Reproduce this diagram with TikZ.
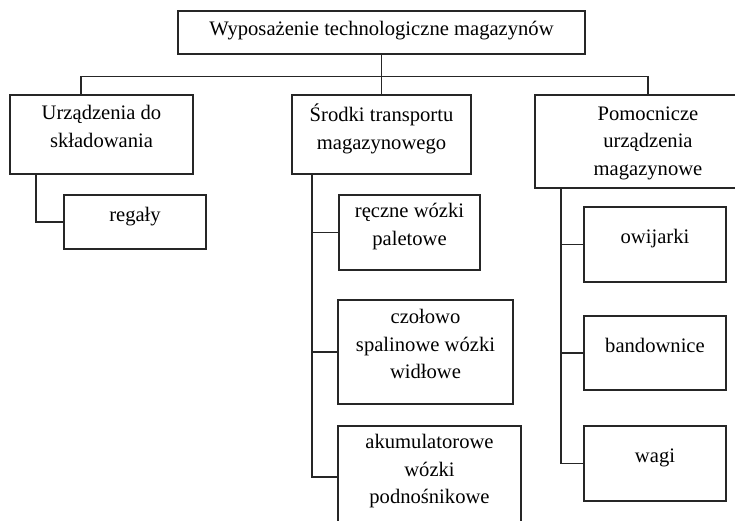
\documentclass[tikz,border=0pt]{standalone}
\usepackage{fontspec}
\setmainfont{Liberation Serif}
\usetikzlibrary{positioning,calc}
\tikzset{
  orgbox/.style={draw=black!85, line width=1.2pt, align=center, inner sep=2pt,
    font=\fontsize{20.6}{27.5}\selectfont, text depth=16pt},
  orgline/.style={draw=black!85, line width=1.2pt},
}
\begin{document}
\begin{tikzpicture}[x=1pt,y=-1pt]
  \useasboundingbox (0,0) rectangle (735,521);
  \clip (0,0) rectangle (735,521);
  % root
  \node[orgbox, minimum width=407pt, minimum height=43pt, text depth=9pt] (root) at (381.5,32.5) {Wyposażenie technologiczne magazynów};
  % groups
  \node[orgbox, minimum width=183pt, minimum height=79pt] (sklad) at (101.5,134.5) {Urządzenia do\\składowania};
  \node[orgbox, minimum width=179pt, minimum height=79pt] (transp) at (381.5,134.5) {Środki transportu\\magazynowego};
  \node[orgbox, minimum width=226pt, minimum height=93pt, text depth=1pt] (pomoc) at (648,141.5) {Pomocnicze\\urządzenia\\magazynowe};
  % items
  \node[orgbox, minimum width=142pt, minimum height=54pt] (regaly) at (135,222) {regały};
  \node[orgbox, minimum width=141pt, minimum height=75pt] (reczne) at (409.5,232.5) {ręczne wózki\\paletowe};
  \node[orgbox, minimum width=175pt, minimum height=104pt] (czolowo) at (425.5,352) {czołowo\\spalinowe wózki\\widłowe};
  \node[orgbox, minimum width=183pt, minimum height=102pt] (akum) at (429.5,477) {akumulatorowe\\wózki\\podnośnikowe};
  \node[orgbox, minimum width=142pt, minimum height=75pt] (owijarki) at (655,244.5) {owijarki};
  \node[orgbox, minimum width=142pt, minimum height=74pt] (bandownice) at (655,353) {bandownice};
  \node[orgbox, minimum width=142pt, minimum height=75pt] (wagi) at (655,463.5) {wagi};
  % connectors
  \draw[orgline] (root) -- (transp);
  \draw[orgline] ([xshift=-20.5pt]sklad.north) -- ++(0,-18) -| (pomoc.north);
  \draw[orgline] ([xshift=-65.5pt]sklad.south) |- (regaly.west);
  \coordinate (transp-trunk) at ([xshift=-69.5pt]transp.south);
  \draw[orgline] (transp-trunk) |- (akum.west);
  \foreach \n in {reczne,czolowo} \draw[orgline] (\n.west) -- (\n.west -| transp-trunk);
  \coordinate (pomoc-trunk) at ([xshift=-87pt]pomoc.south);
  \draw[orgline] (pomoc-trunk) |- (wagi.west);
  \foreach \n in {owijarki,bandownice} \draw[orgline] (\n.west) -- (\n.west -| pomoc-trunk);
\end{tikzpicture}
\end{document}
